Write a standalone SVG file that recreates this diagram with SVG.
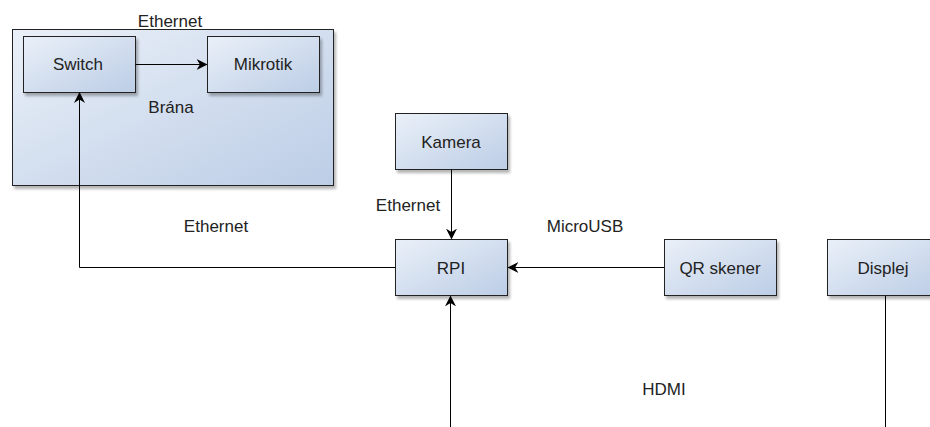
<svg xmlns="http://www.w3.org/2000/svg" width="930" height="427" viewBox="0 0 930 427">
<defs>
<linearGradient id="g" x1="0" y1="0" x2="1" y2="1">
<stop offset="0" stop-color="#eaf0f8"/>
<stop offset="1" stop-color="#bccde6"/>
</linearGradient>
<filter id="sh" x="-10%" y="-10%" width="130%" height="140%">
<feGaussianBlur in="SourceAlpha" stdDeviation="1.5"/>
<feOffset dx="2" dy="3" result="b"/>
<feComponentTransfer><feFuncA type="linear" slope="0.3"/></feComponentTransfer>
<feMerge><feMergeNode/><feMergeNode in="SourceGraphic"/></feMerge>
</filter>
<marker id="arr" viewBox="0 0 10 10" refX="9" refY="5" markerWidth="11" markerHeight="11" markerUnits="userSpaceOnUse" orient="auto">
<path d="M0,0 L10,5 L0,10 L3,5 Z" fill="#000"/>
</marker>
</defs>
<style>
.box{fill:url(#g);stroke:#222;stroke-width:1;filter:url(#sh)}
.t{font-family:"Liberation Sans",Arial,sans-serif;font-size:17px;fill:#222;text-anchor:middle}
.c{fill:none;stroke:#000;stroke-width:1}
</style>
<rect width="930" height="427" fill="#fff"/>
<g id="brana">
<rect class="box" x="12.5" y="29.5" width="321" height="156"/>
<text class="t" x="170" y="27">Ethernet</text>
<text class="t" x="171" y="113">Brána</text>
</g>
<g id="switch">
<rect class="box" x="23.5" y="36.5" width="112" height="56"/>
<text class="t" x="78" y="70">Switch</text>
</g>
<g id="mikrotik">
<rect class="box" x="207.5" y="36.5" width="112" height="56"/>
<text class="t" x="263" y="70">Mikrotik</text>
</g>
<g id="kamera">
<rect class="box" x="395.5" y="113.5" width="112" height="56"/>
<text class="t" x="451" y="148">Kamera</text>
</g>
<g id="rpi">
<rect class="box" x="395.5" y="239.5" width="112" height="56"/>
<text class="t" x="451" y="274">RPI</text>
</g>
<g id="qr">
<rect class="box" x="664.5" y="239.5" width="112" height="56"/>
<text class="t" x="720" y="274">QR skener</text>
</g>
<g id="displej">
<rect class="box" x="827.5" y="239.5" width="112" height="56"/>
<text class="t" x="883" y="274">Displej</text>
</g>
<g id="connectors">
<path class="c" d="M135.5,64.5 H206.5" marker-end="url(#arr)"/>
<path class="c" d="M395,267.5 H79.5 V93" marker-end="url(#arr)"/>
<path class="c" d="M451.5,169.5 V238.5" marker-end="url(#arr)"/>
<path class="c" d="M664,267.5 H508.5" marker-end="url(#arr)"/>
<path class="c" d="M450.5,427 V296.5" marker-end="url(#arr)"/>
<path class="c" d="M885.5,296 V427"/>
<text class="t" x="216" y="232">Ethernet</text>
<text class="t" x="408" y="211">Ethernet</text>
<text class="t" x="585" y="232">MicroUSB</text>
<text class="t" x="664" y="395">HDMI</text>
</g>
</svg>
